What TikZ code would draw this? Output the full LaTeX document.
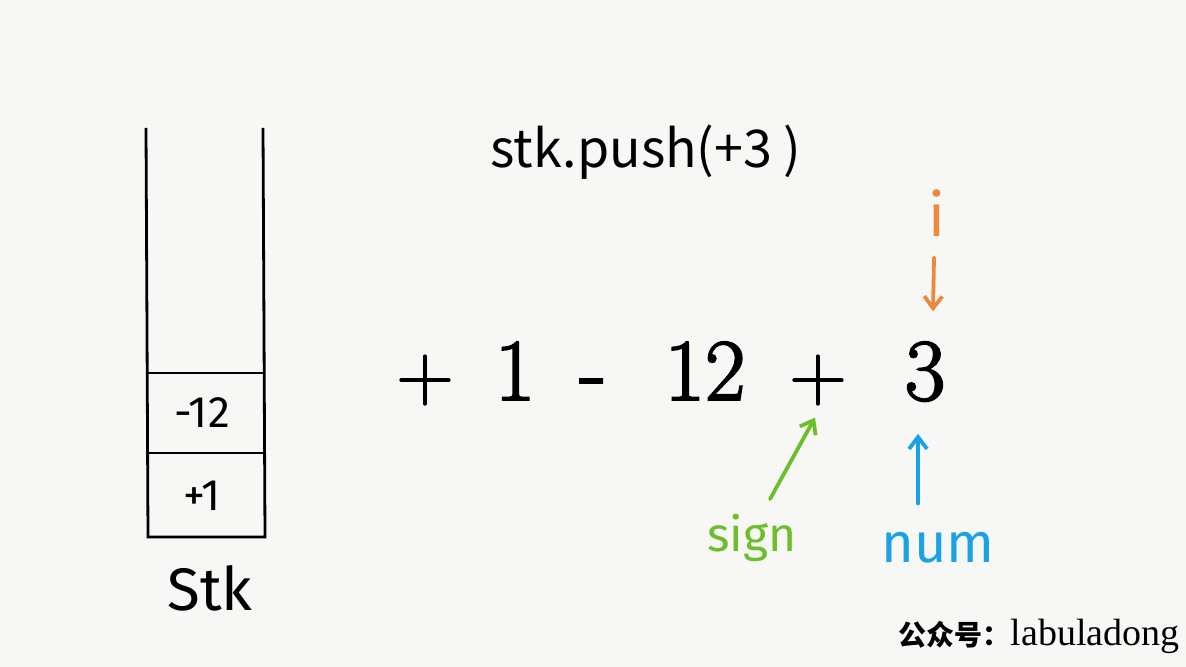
\documentclass[tikz,border=0pt]{standalone}
\usepackage{fontspec}
\newfontfamily\cjk{Noto Sans CJK SC}
\newfontfamily\hand{Fira Sans}
\newfontfamily\timesfont{Liberation Serif}
\newfontfamily\heavy{Latin Modern Roman}[FakeBold=2.2]
\newfontfamily\semiheavy{Latin Modern Roman}[FakeBold=1.4]
\usetikzlibrary{arrows.meta}
\definecolor{bg}{HTML}{F7F7F5}
\definecolor{iorange}{HTML}{EB8A3C}
\definecolor{sgreen}{HTML}{6CBF2A}
\definecolor{nblue}{HTML}{1BA1E6}
\tikzset{
  cell/.style={font=\hand\fontsize{22}{24}\selectfont},
  tok/.style={font=\heavy\fontsize{44}{50}\selectfont, anchor=base, inner sep=0pt},
  op/.style={font=\semiheavy\fontsize{40}{46}\selectfont, anchor=base, inner sep=0pt},
  pen/.style={line width=1.9pt, line cap=round, -{Straight Barb[length=6pt,width=9pt,line width=1.9pt]}}
}
\begin{document}
\begin{tikzpicture}[x=0.5pt,y=-0.5pt]
\fill[bg] (0,0) rectangle (1186,667);
\useasboundingbox (0,0) rectangle (1186,667);
% stack
\draw[line width=1.4pt] (146,128) -- (148,537) -- (265,537) -- (263,128);
\draw[line width=1.4pt] (148,373) -- (264,373);
\draw[line width=1.4pt] (148,453) -- (265,453);
\node[cell] (top) at (202,413) {-12};
\node[cell] (bottom) at (202,496) {+1};
\node[font=\hand\fontsize{30}{34}\selectfont] (stk) at (210,588) {Stk};
% title
\node[font=\cjk\fontsize{26}{30}\selectfont] (push) at (646,152) {stk.push(+3 )};
% expression
\foreach \s/\x/\n in {+/425/p1, +/818/p2}
  \node[op] (\n) at (\x,400) {\s};
\foreach \s/\x/\n in {1/515/one, -/593/minus, 12/705/twelve, 3/925/three}
  \node[tok] (\n) at (\x,400) {\s};
% pointers
\node[font=\hand\fontsize{30}{34}\selectfont, text=iorange] (i) at (937,213) {i};
\node[font=\hand\fontsize{24}{28}\selectfont, text=sgreen] (sign) at (752,538) {sign};
\node[font=\hand\fontsize{28}{32}\selectfont, text=nblue] (num) at (938,548) {num};
\draw[pen, iorange] (i.south) ++(-3,14) -- ([shift={(8,-30)}]three.north);
\draw[pen, sgreen] (sign.north) ++(18,-8) -- ([shift={(-3,12)}]p2.south);
\draw[pen, nblue] (num.north) ++(-20,-22) -- ([shift={(-7,32)}]three.south);
% watermark
\node[anchor=base east, inner sep=0pt] (mark) at (1180,645)
  {{\cjk\bfseries\fontsize{14}{16}\selectfont 公众号：}{\timesfont\fontsize{19}{22}\selectfont labuladong}};
\end{tikzpicture}
\end{document}
